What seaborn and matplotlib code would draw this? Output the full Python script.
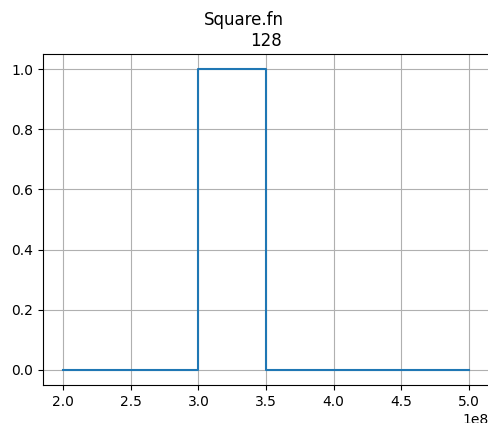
import matplotlib
matplotlib.use("Agg")
import matplotlib.pyplot as plt
import seaborn as sns
import pandas as pd

# data: square function (step transitions)
x_vals = [2.0e8, 3.0e8, 3.0e8, 3.5e8, 3.5e8, 5.0e8]
y_vals = [0.0, 0.0, 1.0, 1.0, 0.0, 0.0]
suptitle = "Square.fn"
title = "128"

df = pd.DataFrame({"x": x_vals, "y": y_vals})

fig = plt.figure(figsize=(4.88, 4.23), dpi=100)
ax = fig.add_axes([43 / 488, (423 - 385) / 423, (489 - 43) / 488, (385 - 54) / 423])
sns.lineplot(data=df, x="x", y="y", sort=False, estimator=None, ax=ax,
             color="#1f77b4", linewidth=1.5)
ax.set_xlabel("")
ax.set_ylabel("")
ax.grid(True, color="#b0b0b0", linewidth=0.8)
ax.set_axisbelow(True)
ax.set_title(title, fontsize=12)
fig.suptitle(suptitle, fontsize=12, y=0.975)
fig.savefig("out.png", dpi=100)
